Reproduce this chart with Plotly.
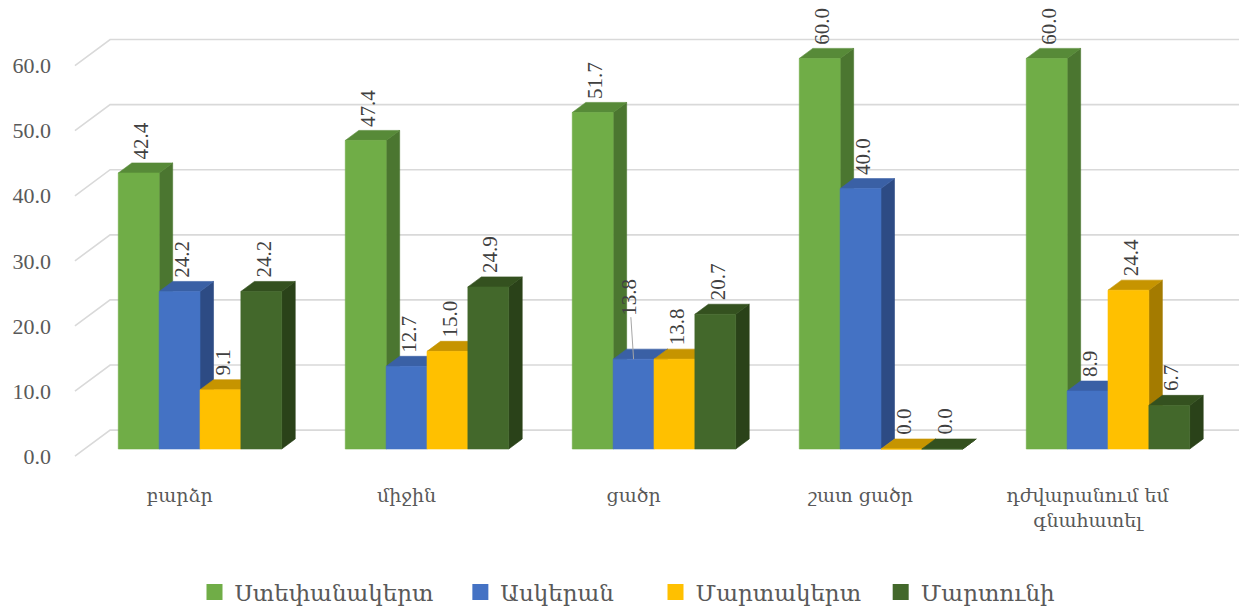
import plotly.graph_objects as go

# ---------------- data ----------------
categories = ["բարձր", "միջին", "ցածր", "շատ ցածր", "դժվարանում եմ<br>գնահատել"]
series_names = ["Ստեփանակերտ", "Ասկերան", "Մարտակերտ", "Մարտունի"]
stepanakert = [42.4, 47.4, 51.7, 60.0, 60.0]
askeran = [24.2, 12.7, 13.8, 40.0, 8.9]
martakert = [9.1, 15.0, 13.8, 0.0, 24.4]
martuni = [24.2, 24.9, 20.7, 0.0, 6.7]
y_ticks = [0, 10, 20, 30, 40, 50, 60]
y_tick_text = ["0.0", "10.0", "20.0", "30.0", "40.0", "50.0", "60.0"]

series = [stepanakert, askeran, martakert, martuni]

# ---------------- style ----------------
front_colors = ["#70AD47", "#4472C4", "#FFC000", "#43682B"]
top_colors = ["#578A38", "#3A60A5", "#C69400", "#34511F"]
side_colors = ["#4B7630", "#2D4B84", "#A47B00", "#2A4219"]
legend_pad = [3, 5, 2, 0]   # extra spacing after each legend entry (nbsp count)

NUM_FONT = "Liberation Serif, DejaVu Serif, serif"
ARM_FONT = "DejaVu Serif, serif"
TEXT_COLOR = "#595959"
LABEL_COLOR = "#404040"

BAR_W = 0.18      # width of one bar in category units
DDX = 0.0595      # depth offset of bar (x units)
DDY = 1.54        # depth offset of bar (y units)
FRONT_DY = -1.1   # front plane offset for axis
BACK_DY = 2.9     # back wall offset
FRONT_X = -0.551
WALL_X = -0.396
LABEL_SHIFT = 0.09

XMIN = -0.6344
XMAX = 4.6123
YMIN = -3.226
YMAX = 65.90

fig = go.Figure()

# back wall gridlines with the diagonal from the front axis
gx, gy = [], []
for t in y_ticks:
    gx += [FRONT_X, WALL_X, XMAX, None]
    gy += [t + FRONT_DY, t + BACK_DY, t + BACK_DY, None]
fig.add_trace(go.Scatter(x=gx, y=gy, mode="lines",
                         line=dict(color="#D9D9D9", width=1.6),
                         hoverinfo="skip", showlegend=False))

n = len(series)
annotations = []
for i, vals in enumerate(series):
    sx, sy, tx, ty, fx, fy = [], [], [], [], [], []
    for g, v in enumerate(vals):
        x0 = g - n * BAR_W / 2 + i * BAR_W
        x1 = x0 + BAR_W
        sx += [x1, x1 + DDX, x1 + DDX, x1, x1, None]
        sy += [0, DDY, v + DDY, v, 0, None]
        tx += [x0, x1, x1 + DDX, x0 + DDX, x0, None]
        ty += [v, v, v + DDY, v + DDY, v, None]
        fx += [x0, x1, x1, x0, x0, None]
        fy += [0, 0, v, v, 0, None]
        xc = (x0 + x1) / 2
        txt = f"{v:.1f}"
        if g == 2 and i == 1:
            annotations.append(dict(
                x=xc, y=v, xref="x", yref="y", text=txt, textangle=-90,
                showarrow=True, arrowhead=0, arrowwidth=1, arrowcolor="#A6A6A6",
                ax=-4, ay=-62,
                font=dict(family=NUM_FONT, size=21, color=LABEL_COLOR)))
        else:
            annotations.append(dict(
                x=xc + 0.01, y=v + DDY, xref="x", yref="y", text=txt,
                textangle=-90, showarrow=False, yanchor="bottom", xanchor="center",
                yshift=2,
                font=dict(family=NUM_FONT, size=21, color=LABEL_COLOR)))
    for xs, ys, col in ((sx, sy, side_colors[i]), (tx, ty, top_colors[i]),
                        (fx, fy, front_colors[i])):
        fig.add_trace(go.Scatter(x=xs, y=ys, mode="lines", fill="toself",
                                 fillcolor=col, line=dict(color=col, width=0.6),
                                 hoverinfo="skip", showlegend=False))
    fig.add_trace(go.Scatter(x=[None], y=[None], mode="markers",
                             name=series_names[i] + "\u00a0" * legend_pad[i],
                             marker=dict(symbol="square", size=16, color=front_colors[i]),
                             showlegend=True))

FIG_H = 604
fig.update_layout(
    width=1239, height=FIG_H,
    margin=dict(l=48, r=0, t=12, b=142),
    paper_bgcolor="white", plot_bgcolor="white",
    showlegend=True,
    legend=dict(orientation="h", x=0.5, xref="container", xanchor="center",
                y=1 - 584 / FIG_H, yref="container", yanchor="middle",
                font=dict(family=ARM_FONT, size=23, color=TEXT_COLOR),
                itemsizing="trace", itemwidth=30, tracegroupgap=0),
    annotations=annotations,
    xaxis=dict(type="linear", range=[XMIN, XMAX], showgrid=False, zeroline=False,
               showline=False, ticks="", automargin=False,
               tickvals=[k - LABEL_SHIFT for k in range(len(categories))],
               ticktext=categories, ticklabelstandoff=12,
               tickfont=dict(family=ARM_FONT, size=19, color=TEXT_COLOR)),
    yaxis=dict(range=[YMIN, YMAX], showgrid=False, zeroline=False, showline=False,
               ticks="", automargin=False,
               tickvals=[t + FRONT_DY for t in y_ticks], ticktext=y_tick_text,
               ticklabelstandoff=4,
               tickfont=dict(family=NUM_FONT, size=22, color=TEXT_COLOR)),
)

fig.write_html("out.html")
